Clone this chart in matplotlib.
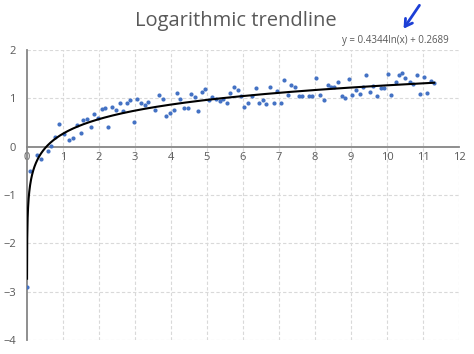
import numpy as np
import matplotlib
matplotlib.use('Agg')
import matplotlib.pyplot as plt

# Data
x_vals = [0.001, 0.09, 0.29, 0.38, 0.57, 0.67, 0.78, 0.88, 1.03, 1.17,
          1.28, 1.38, 1.49, 1.56, 1.66, 1.77, 1.87, 1.97, 2.07, 2.18,
          2.26, 2.37, 2.46, 2.57, 2.68, 2.77, 2.87, 2.96, 3.05, 3.17,
          3.28, 3.37, 3.55, 3.66, 3.77, 3.87, 3.96, 4.07, 4.16, 4.25,
          4.35, 4.46, 4.55, 4.66, 4.76, 4.85, 4.94, 5.05, 5.15, 5.24,
          5.35, 5.44, 5.55, 5.64, 5.75, 5.86, 5.94, 6.03, 6.14, 6.25,
          6.35, 6.44, 6.55, 6.65, 6.74, 6.85, 6.94, 7.05, 7.14, 7.24,
          7.33, 7.44, 7.55, 7.64, 7.83, 7.92, 8.03, 8.14, 8.24, 8.35,
          8.44, 8.53, 8.63, 8.74, 8.83, 8.94, 9.04, 9.13, 9.24, 9.33,
          9.42, 9.53, 9.62, 9.73, 9.83, 9.92, 10.03, 10.12, 10.24, 10.33,
          10.42, 10.51, 10.63, 10.72, 10.83, 10.93, 11.02, 11.11, 11.22, 11.31]
y_vals = [-2.91, -0.50, -0.17, -0.25, -0.08, 0.01, 0.19, 0.46, 0.27, 0.14,
          0.17, 0.44, 0.28, 0.55, 0.57, 0.41, 0.68, 0.59, 0.77, 0.79,
          0.41, 0.83, 0.75, 0.91, 0.73, 0.90, 0.97, 0.52, 0.99, 0.91,
          0.87, 0.93, 0.76, 1.06, 0.98, 0.64, 0.69, 0.76, 1.12, 0.99,
          0.79, 0.81, 1.08, 1.02, 0.73, 1.14, 1.20, 0.97, 1.02, 0.98,
          0.94, 0.99, 0.90, 1.11, 1.23, 1.17, 1.04, 0.83, 0.90, 1.05,
          1.22, 0.91, 0.97, 0.88, 1.24, 0.90, 1.16, 0.90, 1.37, 1.07,
          1.28, 1.23, 1.04, 1.04, 1.05, 1.05, 1.42, 1.07, 0.97, 1.28,
          1.24, 1.24, 1.34, 1.05, 1.00, 1.41, 1.07, 1.17, 1.08, 1.23,
          1.49, 1.14, 1.25, 1.05, 1.21, 1.21, 1.51, 1.07, 1.33, 1.48,
          1.53, 1.43, 1.34, 1.30, 1.49, 1.10, 1.45, 1.11, 1.35, 1.31]

# trendline coefficients shown on the chart
slope = 0.4344
intercept = 0.2689

x_ticks = list(range(0, 13))
y_ticks = list(range(-4, 3))

gray_txt = '#595959'
grid_col = '#d9d9d9'
axis_col = '#868686'

plt.rcParams['font.family'] = ['Open Sans', 'DejaVu Sans']

fig = plt.figure(figsize=(4.74, 3.54), dpi=100)
ax = fig.add_axes([27 / 474, 14 / 354, 432 / 474, 290 / 354])

ax.set_xlim(0, 12)
ax.set_ylim(-4, 2)

# dashed grid
for gx in x_ticks[1:]:
    ax.axvline(gx, color=grid_col, lw=0.8, ls=(0, (3, 2)), zorder=0)
for gy in y_ticks:
    if gy != 0:
        ax.axhline(gy, color=grid_col, lw=0.8, ls=(0, (3, 2)), zorder=0)

ax.scatter(x_vals, y_vals, s=9, color='#4472c4', zorder=3, linewidths=0)

xt = np.linspace(min(x_vals), max(x_vals), 2000)
ax.plot(xt, slope * np.log(xt) + intercept, color='black', lw=1.5, zorder=4)

ax.spines['top'].set_visible(False)
ax.spines['right'].set_visible(False)
ax.spines['bottom'].set_position(('data', 0))
ax.spines['bottom'].set_color(axis_col)
ax.spines['bottom'].set_linewidth(1.3)
ax.spines['left'].set_color(axis_col)
ax.spines['left'].set_linewidth(1.3)

ax.set_xticks(x_ticks)
ax.set_yticks(y_ticks)
ax.tick_params(axis='x', length=0, pad=4, labelsize=8, labelcolor=gray_txt)
ax.tick_params(axis='y', length=0, pad=8, labelsize=8, labelcolor=gray_txt)

fig.text(236 / 474, 1 - 21 / 354, 'Logarithmic trendline', ha='center', va='center',
         fontsize=14.5, color=gray_txt)
fig.text(395 / 474, 1 - 40 / 354, 'y = 0.4344ln(x) + 0.2689', ha='center', va='center',
         fontsize=7, color=gray_txt)

# blue pointer arrow
fig.add_artist(matplotlib.patches.FancyArrowPatch(
    (421 / 474, 1 - 3 / 354), (402 / 474, 1 - 31 / 354),
    transform=fig.transFigure, arrowstyle='->,head_length=5,head_width=3',
    color='#1c3fd6', lw=2))

fig.savefig('out.png', dpi=100)
